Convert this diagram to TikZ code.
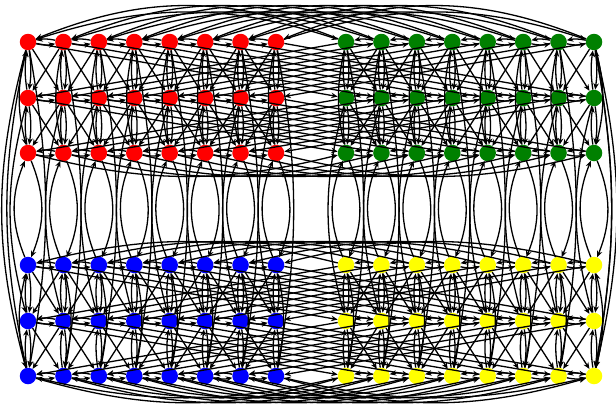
\documentclass[tikz,border=0pt]{standalone}
\usetikzlibrary{arrows.meta}
\definecolor{c0}{RGB}{255,0,0}
\definecolor{c1}{RGB}{0,128,0}
\definecolor{c2}{RGB}{0,0,255}
\definecolor{c3}{RGB}{255,255,0}
\tikzset{
  vtx/.style={circle, inner sep=0pt, minimum size=16.5pt, draw=none},
  e/.style={draw=black, line width=1.3pt, -{Stealth[length=6.5pt,width=5.5pt]}}
}
\begin{document}
\begin{tikzpicture}[x=1pt,y=-1pt]
\useasboundingbox (0,0) rectangle (616,405);
% nodes
\foreach \r/\y in {0/42,1/98,2/153,3/265,4/321,5/376} {
  \foreach \c in {0,...,15} {
    \pgfmathsetmacro\xx{\c<8 ? 28+35.43*\c : 346+35.43*(\c-8)}
    \pgfmathtruncatemacro\col{(\r<3 ? 0 : 2) + (\c<8 ? 0 : 1)}
    \node[vtx, fill=c\col] (n-\r-\c) at (\xx,\y) {};
  }
}
% horizontal neighbours within rows
\foreach \r in {0,...,5} \foreach \g in {0,8} \foreach \k in {0,...,6} {
  \pgfmathtruncatemacro\a{\g+\k}
  \pgfmathtruncatemacro\b{\g+\k+1}
  \draw[e] (n-\r-\b) to[bend right=12] (n-\r-\a);
  \draw[e] (n-\r-\a) to[bend right=12] (n-\r-\b);
}
% long arcs over top / under bottom / along the middle
\foreach \k in {0,...,7} {
  \pgfmathtruncatemacro\b{\k+8}
  \draw[e] (n-0-\b) to[bend right=22] (n-0-\k);
  \draw[e] (n-0-\k) to[bend left=18] (n-0-\b);
  \draw[e] (n-5-\k) to[bend right=16] (n-5-\b);
  \draw[e] (n-5-\b) to[bend left=13] (n-5-\k);
  \draw[e] (n-2-\k) to[bend right=14] (n-2-\b);
  \draw[e] (n-3-\b) to[bend right=14] (n-3-\k);
}
% vertical and diagonal within halves
\foreach \r in {0,1,3,4} {
  \pgfmathtruncatemacro\s{\r+1}
  \foreach \c in {0,...,15} {
    \draw[e] (n-\r-\c) to[bend left=8] (n-\s-\c);
    \draw[e] (n-\s-\c) to[bend left=8] (n-\r-\c);
  }
  \foreach \g in {0,8} \foreach \k in {0,...,6} {
    \pgfmathtruncatemacro\a{\g+\k}
    \pgfmathtruncatemacro\b{\g+\k+1}
    \draw[e] (n-\r-\a) -- (n-\s-\b);
    \draw[e] (n-\r-\b) -- (n-\s-\a);
  }
  % cross bundles between groups
  \foreach \k in {0,...,7} {
    \pgfmathtruncatemacro\b{\k+8}
    \draw[e] (n-\r-\k) -- (n-\s-\b);
    \draw[e] (n-\r-\b) -- (n-\s-\k);
  }
}
% skip vertical within halves
\foreach \c in {1,...,14} {
  \draw[e] (n-0-\c) to[bend right=12] (n-2-\c);
  \draw[e] (n-5-\c) to[bend right=12] (n-3-\c);
}
% between halves
\foreach \c in {0,...,15} {
  \draw[e] (n-2-\c) to[bend left=22] (n-3-\c);
  \draw[e] (n-3-\c) to[bend left=22] (n-2-\c);
  \draw[e] (n-1-\c) to[bend right=15] (n-4-\c);
  \draw[e] (n-0-\c) to[bend left=10] (n-5-\c);
}
% outer sides
\draw[e] (n-0-0) to[bend right=15] (n-5-0);
\draw[e] (n-5-0) to[bend left=12] (n-0-0);
\draw[e] (n-0-0) to[bend right=14] (n-2-0);
\draw[e] (n-5-0) to[bend left=14] (n-3-0);
\draw[e] (n-0-15) to[bend left=13] (n-5-15);
\draw[e] (n-5-15) to[bend right=10] (n-0-15);
\draw[e] (n-0-15) to[bend left=14] (n-2-15);
\draw[e] (n-5-15) to[bend right=14] (n-3-15);
\end{tikzpicture}
\end{document}
